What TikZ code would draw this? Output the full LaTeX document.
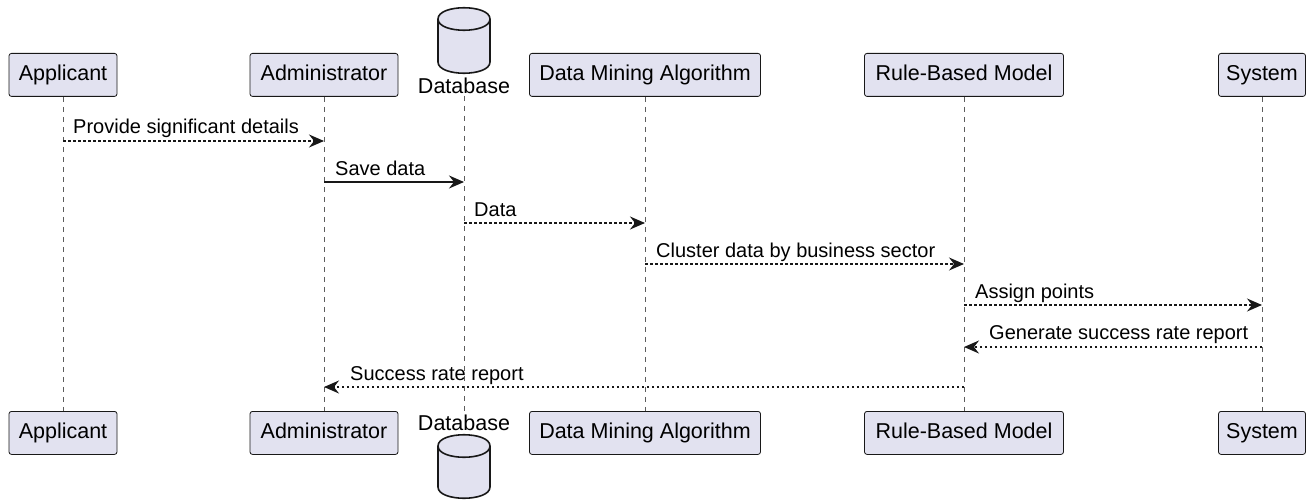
\documentclass[tikz,border=0pt]{standalone}
\usepackage{fontspec}
\setmainfont{Liberation Sans}
\usetikzlibrary{arrows.meta}
\definecolor{pfill}{HTML}{E2E2F0}
\definecolor{pline}{HTML}{181818}
\tikzset{
  part/.style={draw=pline, line width=0.8pt, fill=pfill, rounded corners=2.5pt, minimum height=43pt, inner sep=0pt, text height=15pt, text depth=4.5pt, font=\fontsize{21.5}{25}\selectfont, anchor=north},
  life/.style={draw=pline!70, line width=0.8pt, dash pattern=on 5pt off 5pt},
  msg/.style={draw=pline, line width=1.3pt, -{Stealth[length=15pt,width=13pt,inset=5pt]}},
  dmsg/.style={msg, dash pattern=on 2.5pt off 2.5pt},
  lbl/.style={font=\fontsize{20}{24}\selectfont, inner sep=0pt, anchor=base west},
  dblbl/.style={font=\fontsize{21.5}{25}\selectfont, inner sep=0pt},
  dbshape/.style={draw=pline, line width=1.6pt, fill=pfill}
}
\newcommand{\dbcyl}[3]{% x, top y, bottom y
  \path[dbshape] (#1-26,#2+11) .. controls (#1-26,#2-4) and (#1+26,#2-4) .. (#1+26,#2+11)
     -- (#1+26,#3-11) .. controls (#1+26,#3+4) and (#1-26,#3+4) .. (#1-26,#3-11) -- cycle;
  \draw[dbshape, fill=none] (#1-26,#2+11) .. controls (#1-26,#2+26) and (#1+26,#2+26) .. (#1+26,#2+11);
}
\begin{document}
\begin{tikzpicture}[x=1pt,y=-1pt]
\useasboundingbox (0,0) rectangle (1311,500);
% top participants
\node[part, minimum width=108pt] (aT) at (63,53) {Applicant};
\node[part, minimum width=148pt] (bT) at (324,53) {Administrator};
\node[part, minimum width=231pt] (dT) at (645,53) {Data Mining Algorithm};
\node[part, minimum width=199pt] (rT) at (964,53) {Rule-Based Model};
\node[part, minimum width=87pt] (sT) at (1262,53) {System};
\coordinate (cT) at (464,96);
% bottom participants
\node[part, minimum width=108pt] (aB) at (63,411) {Applicant};
\node[part, minimum width=148pt] (bB) at (324,411) {Administrator};
\node[part, minimum width=231pt] (dB) at (645,411) {Data Mining Algorithm};
\node[part, minimum width=199pt] (rB) at (964,411) {Rule-Based Model};
\node[part, minimum width=87pt] (sB) at (1262,411) {System};
\coordinate (cB) at (464,411);
% lifelines
\draw[life] (aT.south) -- (aB.north);
\draw[life] (bT.south) -- (bB.north);
\draw[life] (cT) -- (cB);
\draw[life] (dT.south) -- (dB.north);
\draw[life] (rT.south) -- (rB.north);
\draw[life] (sT.south) -- (sB.north);
% database symbols
\dbcyl{464}{8}{73}
\node[dblbl] (cTl) at (464,86) {Database};
\node[dblbl] (cBl) at (464,423) {Database};
\dbcyl{464}{435}{498}
% message coordinates
\coordinate (m1a) at (63,141);  \coordinate (m1b) at (324,141);
\coordinate (m2a) at (324,182); \coordinate (m2b) at (464,182);
\coordinate (m3a) at (464,223); \coordinate (m3b) at (645,223);
\coordinate (m4a) at (645,264); \coordinate (m4b) at (964,264);
\coordinate (m5a) at (964,305); \coordinate (m5b) at (1262,305);
\coordinate (m6a) at (1262,347); \coordinate (m6b) at (964,347);
\coordinate (m7a) at (964,387); \coordinate (m7b) at (324,387);
% messages
\draw[dmsg] (m1a) -- (m1b);
\node[lbl] (l1) at (73,134) {Provide significant details};
\draw[msg] (m2a) -- (m2b);
\node[lbl] (l2) at (335,175) {Save data};
\draw[dmsg] (m3a) -- (m3b);
\node[lbl] (l3) at (474,216) {Data};
\draw[dmsg] (m4a) -- (m4b);
\node[lbl] (l4) at (656,257) {Cluster data by business sector};
\draw[dmsg] (m5a) -- (m5b);
\node[lbl] (l5) at (975,298) {Assign points};
\draw[dmsg] (m6a) -- (m6b);
\node[lbl] (l6) at (989,339) {Generate success rate report};
\draw[dmsg] (m7a) -- (m7b);
\node[lbl] (l7) at (350,380) {Success rate report};
\end{tikzpicture}
\end{document}
